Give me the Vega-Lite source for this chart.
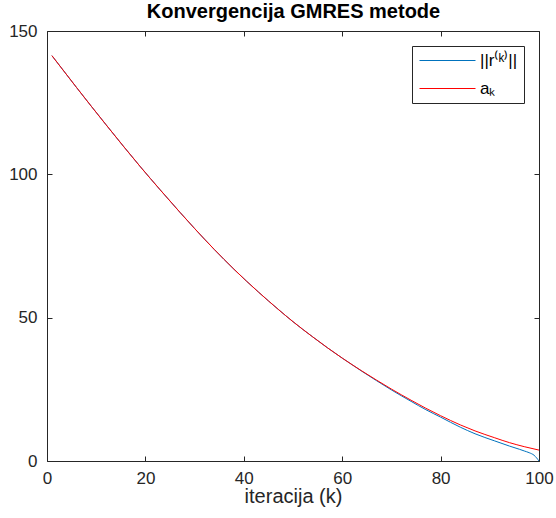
{
  "$schema": "https://vega.github.io/schema/vega-lite/v6.json",
  "width": 492,
  "height": 430,
  "autosize": {"type": "none"},
  "padding": {"left": 47, "top": 31, "right": 17, "bottom": 57},
  "background": "white",
  "data": {"values": [
    {"k": 1, "series": "r", "v": 141.4},
    {"k": 6, "series": "r", "v": 130.3},
    {"k": 12, "series": "r", "v": 117.3},
    {"k": 19, "series": "r", "v": 102.6},
    {"k": 23, "series": "r", "v": 94.6},
    {"k": 27, "series": "r", "v": 86.8},
    {"k": 30, "series": "r", "v": 81.1},
    {"k": 34, "series": "r", "v": 73.8},
    {"k": 38, "series": "r", "v": 66.9},
    {"k": 43, "series": "r", "v": 58.9},
    {"k": 47, "series": "r", "v": 52.9},
    {"k": 50, "series": "r", "v": 48.6},
    {"k": 54, "series": "r", "v": 43.3},
    {"k": 57, "series": "r", "v": 39.5},
    {"k": 60, "series": "r", "v": 35.9},
    {"k": 64, "series": "r", "v": 31.3},
    {"k": 67, "series": "r", "v": 28.0},
    {"k": 70, "series": "r", "v": 24.8},
    {"k": 74, "series": "r", "v": 20.8},
    {"k": 77, "series": "r", "v": 17.9},
    {"k": 80, "series": "r", "v": 15.3},
    {"k": 84, "series": "r", "v": 11.8},
    {"k": 87, "series": "r", "v": 9.5},
    {"k": 91, "series": "r", "v": 7.0},
    {"k": 94, "series": "r", "v": 5.2},
    {"k": 96, "series": "r", "v": 4.1},
    {"k": 97, "series": "r", "v": 3.5},
    {"k": 98, "series": "r", "v": 2.9},
    {"k": 99, "series": "r", "v": 2.0},
    {"k": 100, "series": "r", "v": 0},
    {"k": 1, "series": "a", "v": 141.4},
    {"k": 6, "series": "a", "v": 130.3},
    {"k": 12, "series": "a", "v": 117.3},
    {"k": 19, "series": "a", "v": 102.6},
    {"k": 23, "series": "a", "v": 94.6},
    {"k": 27, "series": "a", "v": 86.8},
    {"k": 30, "series": "a", "v": 81.1},
    {"k": 34, "series": "a", "v": 73.8},
    {"k": 38, "series": "a", "v": 66.9},
    {"k": 43, "series": "a", "v": 58.9},
    {"k": 47, "series": "a", "v": 52.9},
    {"k": 50, "series": "a", "v": 48.6},
    {"k": 54, "series": "a", "v": 43.3},
    {"k": 57, "series": "a", "v": 39.5},
    {"k": 60, "series": "a", "v": 35.9},
    {"k": 64, "series": "a", "v": 31.4},
    {"k": 67, "series": "a", "v": 28.2},
    {"k": 70, "series": "a", "v": 25.1},
    {"k": 74, "series": "a", "v": 21.2},
    {"k": 77, "series": "a", "v": 18.4},
    {"k": 80, "series": "a", "v": 15.8},
    {"k": 84, "series": "a", "v": 12.6},
    {"k": 87, "series": "a", "v": 10.5},
    {"k": 91, "series": "a", "v": 8.1},
    {"k": 94, "series": "a", "v": 6.4},
    {"k": 97, "series": "a", "v": 5.0},
    {"k": 100, "series": "a", "v": 3.8}
  ]},
  "layer": [
    {
      "transform": [{"filter": "datum.series === 'r'"}],
      "mark": {"type": "line", "strokeWidth": 1, "interpolate": "monotone"},
      "encoding": {
        "x": {"field": "k", "type": "quantitative", "scale": {"domain": [0, 100], "nice": false},
          "axis": {"orient": "bottom", "values": [0, 20, 40, 60, 80, 100], "title": "iteracija (k)", "labelPadding": 14, "titlePadding": 0}},
        "y": {"field": "v", "type": "quantitative", "scale": {"domain": [0, 150], "nice": false},
          "axis": {"orient": "left", "values": [0, 50, 100, 150], "title": null, "labelPadding": 15}},
        "color": {"field": "series", "type": "nominal", "scale": {"domain": ["r", "a"], "range": ["#0072BD", "#FF0000"]},
          "legend": {"title": null, "labelExpr": "datum.value === 'r' ? '||r⁽ᵏ⁾||' : 'aₖ'"}}
      }
    },
    {
      "transform": [{"filter": "datum.series === 'a'"}],
      "mark": {"type": "line", "strokeWidth": 1, "interpolate": "monotone"},
      "encoding": {
        "x": {"field": "k", "type": "quantitative", "scale": {"domain": [0, 100], "nice": false},
          "axis": {"orient": "top", "values": [0, 20, 40, 60, 80, 100], "labels": false,
            "title": "Konvergencija GMRES metode", "titleFontWeight": "bold", "titleFontSize": 20, "titleColor": "#000000",
            "titleBaseline": "alphabetic", "titlePadding": 13}},
        "y": {"field": "v", "type": "quantitative", "scale": {"domain": [0, 150], "nice": false},
          "axis": {"orient": "right", "values": [0, 50, 100, 150], "title": null, "labels": false, "minExtent": 0, "maxExtent": 0}},
        "color": {"field": "series", "type": "nominal", "scale": {"domain": ["r", "a"], "range": ["#0072BD", "#FF0000"]},
          "legend": {"title": null, "labelExpr": "datum.value === 'r' ? '||r⁽ᵏ⁾||' : 'aₖ'"}}
      }
    }
  ],
  "resolve": {"axis": {"x": "independent", "y": "independent"}},
  "config": {
    "font": "Liberation Sans",
    "view": {"stroke": null},
    "axis": {
      "grid": false,
      "domainColor": "#262626",
      "domainWidth": 1,
      "tickColor": "#262626",
      "tickSize": -5,
      "tickWidth": 1,
      "labelFont": "Liberation Sans",
      "labelFontSize": 17,
      "labelColor": "#262626",
      "labelFlush": false,
      "labelOverlap": false,
      "titleFont": "Liberation Sans",
      "titleFontSize": 20,
      "titleFontWeight": "normal",
      "titleColor": "#262626"
    },
    "legend": {
      "orient": "top-right",
      "offset": 15,
      "strokeColor": "#262626",
      "fillColor": "white",
      "padding": 6,
      "symbolType": "M-4,0H4",
      "symbolSize": 196,
      "symbolOffset": 21,
      "symbolStrokeWidth": 1,
      "labelFont": "Liberation Sans",
      "labelFontSize": 17,
      "labelColor": "#000000",
      "rowPadding": 10,
      "labelOffset": 24
    }
  }
}
